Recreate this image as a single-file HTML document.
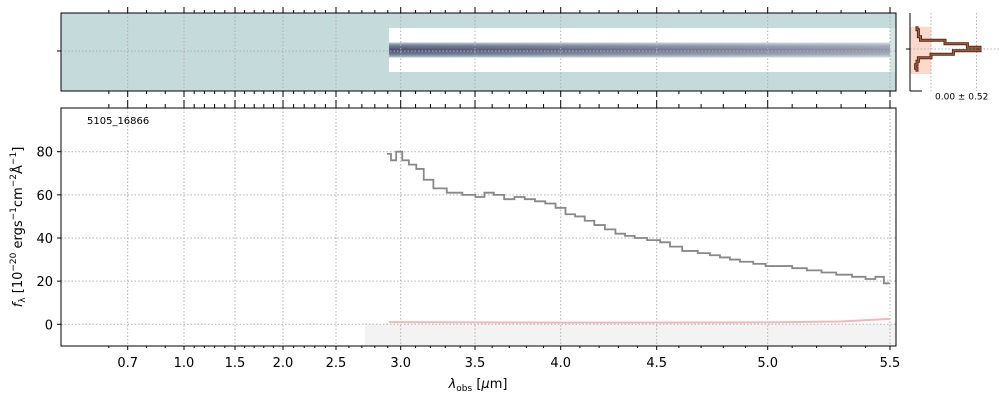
<!DOCTYPE html>
<html><head><meta charset="utf-8"><style>
body{margin:0;background:#fff;}
svg{display:block;font-family:"DejaVu Sans","Liberation Sans",sans-serif;}
</style></head><body>
<svg id="chart" width="1000" height="400" viewBox="0 0 1000 400">
<defs>
<linearGradient id="band" x1="0" y1="0" x2="0" y2="1">
<stop offset="0" stop-color="#ffffff"/><stop offset="0.32" stop-color="#ffffff"/>
<stop offset="0.34" stop-color="#a9c2c4"/><stop offset="0.40" stop-color="#6f7a95"/>
<stop offset="0.5" stop-color="#4a4e70"/><stop offset="0.60" stop-color="#6f7a95"/>
<stop offset="0.66" stop-color="#a9c2c4"/><stop offset="0.68" stop-color="#ffffff"/>
<stop offset="1" stop-color="#ffffff"/></linearGradient>
<linearGradient id="fade" x1="0" y1="0" x2="1" y2="0">
<stop offset="0" stop-color="#fff" stop-opacity="0"/><stop offset="0.5" stop-color="#fff" stop-opacity="0.2"/><stop offset="1" stop-color="#fff" stop-opacity="0.4"/></linearGradient>
</defs>
<g id="gtop"></g>
<g id="gside"></g>
<g id="gmain"></g>
</svg>
<script>
const tickVals=[0.7,1.0,1.5,2.0,2.5,3.0,3.5,4.0,4.5,5.0,5.5];
const tickLabels=["0.7","1.0","1.5","2.0","2.5","3.0","3.5","4.0","4.5","5.0","5.5"];
const yTicks=[0,20,40,60,80];
const wave=[2.91,2.94,2.99,3.03,3.08,3.13,3.18,3.26,3.36,3.47,3.53,3.58,3.64,3.70,3.76,3.82,3.88,3.94,4.00,4.05,4.10,4.15,4.20,4.26,4.31,4.36,4.41,4.49,4.54,4.58,4.65,4.72,4.76,4.81,4.85,4.90,4.97,5.01,5.07,5.13,5.19,5.25,5.31,5.38,5.42,5.46,5.49];
const flux=[79,76,80,76,74,72,67,63,61,60,59,61,60,58,59,58,57,56,54,51,50,48,46,44,42,41,40,39,38,36,34,33,32,31,30,29,28,27,27,26,25,24,23,22,21,22,19];
const errWave=[2.91,3.5,4.0,4.5,5.0,5.3,5.5];
const errVals=[1.0,0.9,0.8,0.8,0.9,1.3,2.5];
const profY=[-3,-2.5,-2,-1.5,-1,-0.5,0,0.5,1,1.5,2,2.5,3];
const profV=[0.1,0.12,0.12,0.15,0.5,0.82,1.0,0.62,0.3,0.12,0.1,0.08,0.1];
</script>
<script>
(function(){
const NS="http://www.w3.org/2000/svg";
function mk(p,t,a,txt){const e=document.createElementNS(NS,t);for(const k in a)e.setAttribute(k,a[k]);if(txt!==undefined)e.textContent=txt;p.appendChild(e);return e;}
const xAnch=[0.5,0.7,1.0,1.5,2.0,2.5,3.0,3.5,4.0,4.5,5.0,5.5,5.6];
const xAnchPx=[90,127.7,184,235,283,336,400.7,475,560.7,656.7,767.7,890,915];
function X(v){for(let i=0;i<xAnch.length-1;i++){if(v<=xAnch[i+1]||i==xAnch.length-2){const t=(v-xAnch[i])/(xAnch[i+1]-xAnch[i]);return xAnchPx[i]+t*(xAnchPx[i+1]-xAnchPx[i]);}}}
const L=61,R=896,MT=108,MB=346;
function Y(v){return 324.3-(v)*(172.6/80);}
const gTop=document.getElementById('gtop'),gMain=document.getElementById('gmain'),gSide=document.getElementById('gside');
mk(gTop,'rect',{x:L,y:13,width:R-L,height:78,fill:'#c5dbdb'});
const b=mk(gTop,'rect',{x:X(2.91),y:28,width:R-5-X(2.91),height:44,fill:'url(#band)'});


mk(gTop,'rect',{x:X(2.91),y:28,width:R-5-X(2.91),height:44,fill:'url(#fade)'});
mk(gTop,'rect',{x:R-6,y:28,width:6,height:44,fill:'#d6e4e4'});
tickVals.forEach(v=>mk(gTop,'line',{x1:X(v),x2:X(v),y1:13,y2:91,stroke:'#b0b0b0','stroke-width':1,'stroke-dasharray':'1.5,2'}));
mk(gTop,'line',{x1:L,x2:R,y1:51,y2:51,stroke:'#b0b0b0','stroke-width':1,'stroke-dasharray':'1.5,2'});
mk(gTop,'rect',{x:L,y:13,width:R-L,height:78,fill:'none',stroke:'#000','stroke-width':1});
mk(gTop,'line',{x1:L-4,x2:L,y1:51,y2:51,stroke:'#000'});
for(let k=6;k<=55;k++){const v=k/10;const maj=tickVals.some(t=>Math.abs(t-v)<1e-6);const x=X(v);
 mk(gTop,'line',{x1:x,x2:x,y1:13,y2:maj?7:10,stroke:'#000'});
 mk(gTop,'line',{x1:x,x2:x,y1:91,y2:maj?97:94,stroke:'#000'});
 mk(gMain,'line',{x1:x,x2:x,y1:MT,y2:maj?100:104,stroke:'#000'});
 mk(gMain,'line',{x1:x,x2:x,y1:MB,y2:maj?MB+4:MB+2,stroke:'#000'});}
const SL=910,SR=990,SC=49,sh=7;
function SX(v){return SL+v*70;}
mk(gSide,'rect',{x:SL,y:27,width:SX(0.3)-SL,height:47,fill:'#fcd9cc'});
[SX(0.3),SX(0.95)].forEach(x=>mk(gSide,'line',{x1:x,x2:x,y1:13,y2:91,stroke:'#b0b0b0','stroke-dasharray':'1.5,2'}));
mk(gSide,'line',{x1:SL,x2:SR+10,y1:SC,y2:SC,stroke:'#b0b0b0','stroke-dasharray':'1.5,2'});
let d='';profY.forEach((p,i)=>{const y=SC+p*sh;const x=SX(profV[i]);d+=(i?'L':'M')+x+','+(y-sh/4)+'L'+x+','+(y+sh/4);});
const pp=mk(gSide,'path',{d:d,fill:'none',stroke:'#4a2a1c','stroke-width':3});


mk(gSide,'path',{d:d,fill:'none',stroke:'#c0603a','stroke-width':1});
mk(gSide,'line',{x1:SL,x2:SL,y1:13,y2:91,stroke:'#000'});
mk(gSide,'line',{x1:SL,x2:SL+12,y1:91,y2:91,stroke:'#000'});
mk(gSide,'line',{x1:SL-4,x2:SL,y1:SC,y2:SC,stroke:'#000'});
const st=mk(gSide,'text',{x:935,y:94,'font-size':9,fill:'#000','dominant-baseline':'hanging'},'0.00 ± 0.52');


mk(gMain,'rect',{x:365,y:Y(0),width:R-365,height:MB-Y(0),fill:'#f3f3f3'});
tickVals.forEach(v=>mk(gMain,'line',{x1:X(v),x2:X(v),y1:MT,y2:MB,stroke:'#b0b0b0','stroke-dasharray':'1.5,2'}));
yTicks.forEach(v=>{mk(gMain,'line',{x1:L,x2:R,y1:Y(v),y2:Y(v),stroke:'#b0b0b0','stroke-dasharray':'1.5,2'});
 mk(gMain,'line',{x1:L-4,x2:L,y1:Y(v),y2:Y(v),stroke:'#000'});
 const t=mk(gMain,'text',{x:L-8,y:Y(v)+5,'font-size':13,'text-anchor':'end'},String(v));
 
 });
let ed='';errWave.forEach((w,i)=>ed+=(i?'L':'M')+X(w)+','+Y(errVals[i]));
const el=mk(gMain,'path',{d:ed,fill:'none',stroke:'#f4b6b6','stroke-width':2});


let fd='';wave.forEach((w,i)=>{const x0=i?(X(wave[i-1])+X(w))/2:X(w)-2;const x1=i<wave.length-1?(X(w)+X(wave[i+1]))/2:X(w)+2;fd+=(i?'L':'M')+x0+','+Y(flux[i])+'L'+x1+','+Y(flux[i]);});
const fl=mk(gMain,'path',{d:fd,fill:'none',stroke:'#888','stroke-width':1.8});


mk(gMain,'rect',{x:L,y:MT,width:R-L,height:MB-MT,fill:'none',stroke:'#000'});
tickVals.forEach((v,i)=>{const t=mk(gMain,'text',{x:X(v),y:367,'font-size':13,'text-anchor':'middle'},tickLabels[i]);
 
 });
const id=mk(gMain,'text',{x:87,y:124,'font-size':10},'5105_16866');


const xl=mk(gMain,'text',{x:478,y:388,'font-size':13,'text-anchor':'middle'});


xl.innerHTML='<tspan font-style="italic">λ</tspan><tspan font-size="9" dy="3">obs</tspan><tspan dy="-3"> [</tspan><tspan font-style="italic">μ</tspan>m]';
const yl=mk(gMain,'text',{x:0,y:0,'font-size':13,'text-anchor':'middle',transform:'translate(22,227) rotate(-90)'});


yl.innerHTML='<tspan font-style="italic">f</tspan><tspan font-size="9" dy="3">λ</tspan><tspan dy="-3"> [10</tspan><tspan font-size="9" dy="-6">−20</tspan><tspan dy="6"> ergs</tspan><tspan font-size="9" dy="-6">−1</tspan><tspan dy="6">cm</tspan><tspan font-size="9" dy="-6">−2</tspan><tspan dy="6">Å</tspan><tspan font-size="9" dy="-6">−1</tspan><tspan dy="6">]</tspan>';
})();
</script>
</body></html>
